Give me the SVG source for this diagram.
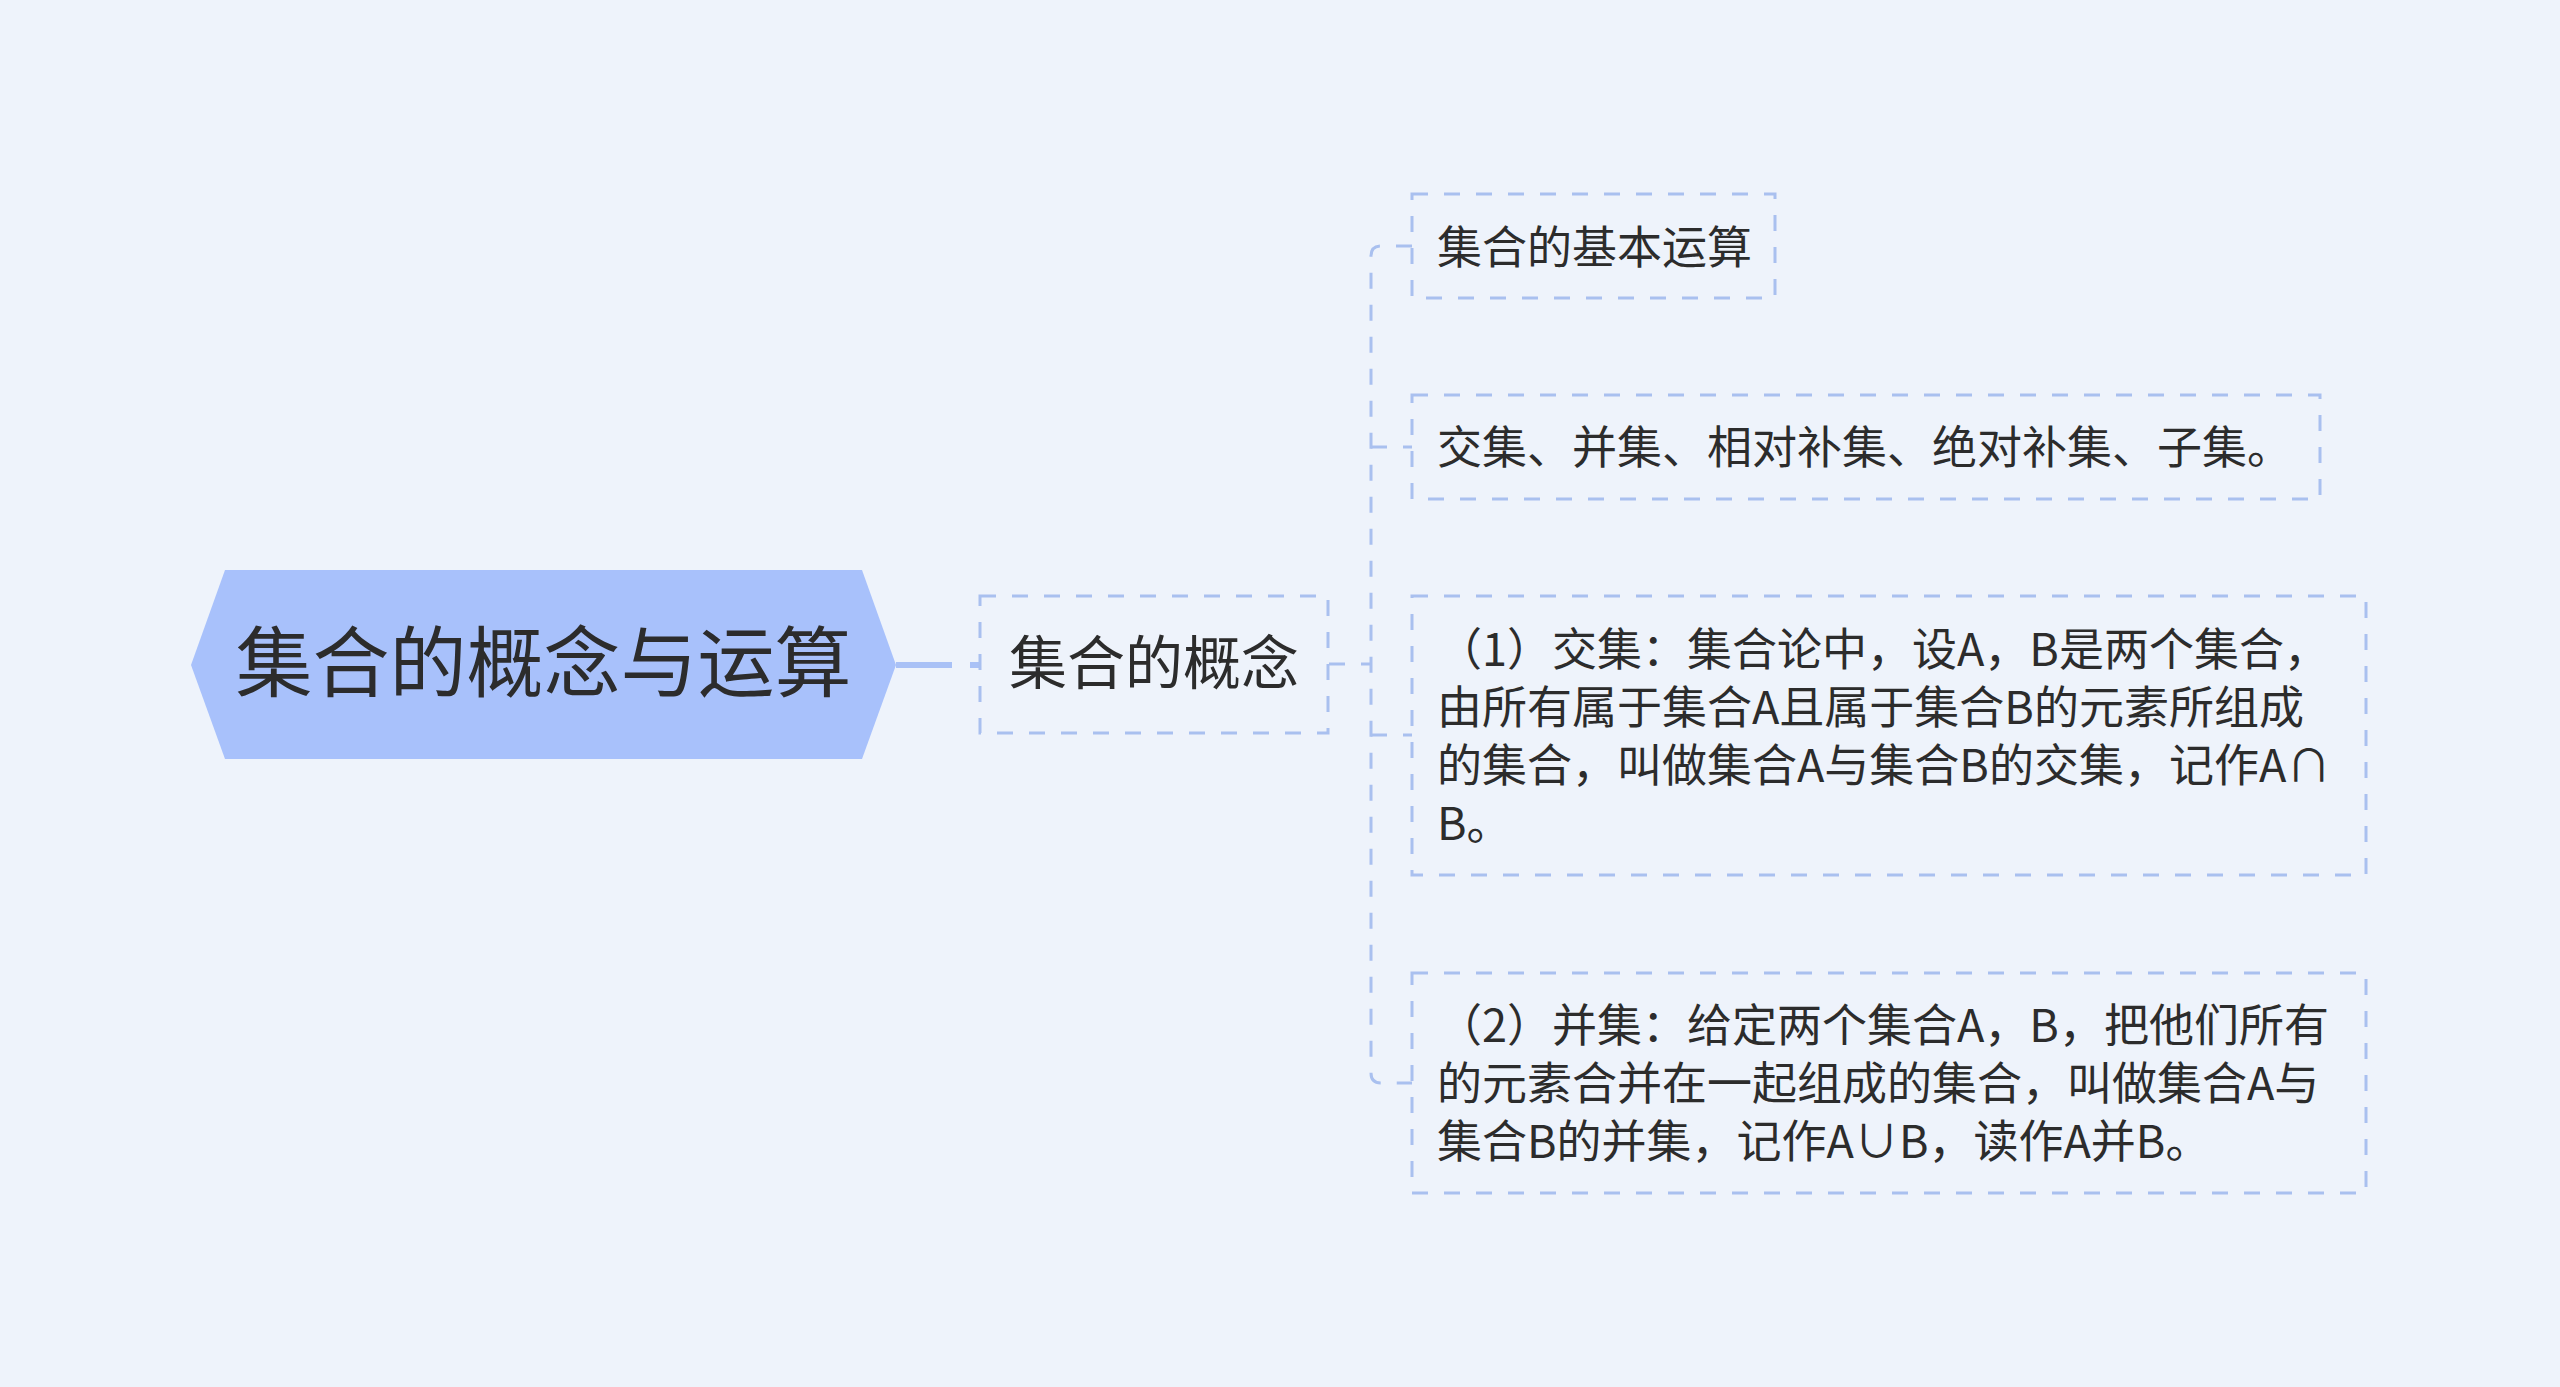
<svg xmlns="http://www.w3.org/2000/svg" width="2560" height="1387" viewBox="0 0 2560 1387">
<style>
text{font-family:"Noto Sans CJK SC","Noto Sans",sans-serif;fill:#2c2c2c}
.box{fill:none;stroke:#a9c0ef;stroke-width:3;stroke-dasharray:16 16}
.conn{fill:none;stroke:#a9c0ef;stroke-width:3;stroke-dasharray:16 16}
.t45{font-size:45px}
</style>
<rect width="2560" height="1387" fill="#eef3fb"/>
<g id="connectors">
<path d="M896,665 H952" stroke="#a9c1f6" stroke-width="6" fill="none"/>
<path d="M970,665 H980" stroke="#a9c1f6" stroke-width="6" fill="none"/>
<path class="conn" d="M1329,664 H1371"/>
<path class="conn" d="M1412,246 H1381 Q1371,246 1371,256 V1073 Q1371,1083 1381,1083 H1412"/>
<path class="conn" d="M1371,447 H1412"/>
<path class="conn" d="M1371,735 H1412"/>
</g>
<g id="root">
<polygon points="191,665 225,570 862,570 896,665 862,759 225,759" fill="#a8c1fb"/>
<text x="543.5" y="691" font-size="77" text-anchor="middle">集合的概念与运算</text>
</g>
<g id="n-concept">
<rect x="980" y="596" width="348" height="137" fill="#c9d9fb" class="box"/>
<text x="1154" y="684" font-size="58" text-anchor="middle">集合的概念</text>
</g>
<g id="n-basic">
<rect x="1412" y="194" width="363" height="104" class="box"/>
<text class="t45" x="1437" y="264">集合的基本运算</text>
</g>
<g id="n-list">
<rect x="1412" y="395" width="908" height="104" class="box"/>
<text class="t45" x="1437" y="464">交集、并集、相对补集、绝对补集、子集。</text>
</g>
<g id="n-intersection">
<rect x="1412" y="596" width="954" height="279" class="box"/>
<text class="t45"><tspan x="1437" y="666">（1）交集：集合论中，设A，B是两个集合，</tspan><tspan x="1437" y="724">由所有属于集合A且属于集合B的元素所组成</tspan><tspan x="1437" y="782">的集合，叫做集合A与集合B的交集，记作A∩</tspan><tspan x="1437" y="840">B。</tspan></text>
</g>
<g id="n-union">
<rect x="1412" y="973" width="954" height="220" class="box"/>
<text class="t45"><tspan x="1437" y="1042">（2）并集：给定两个集合A，B，把他们所有</tspan><tspan x="1437" y="1100">的元素合并在一起组成的集合，叫做集合A与</tspan><tspan x="1437" y="1158">集合B的并集，记作A∪B，读作A并B。</tspan></text>
</g>
</svg>
